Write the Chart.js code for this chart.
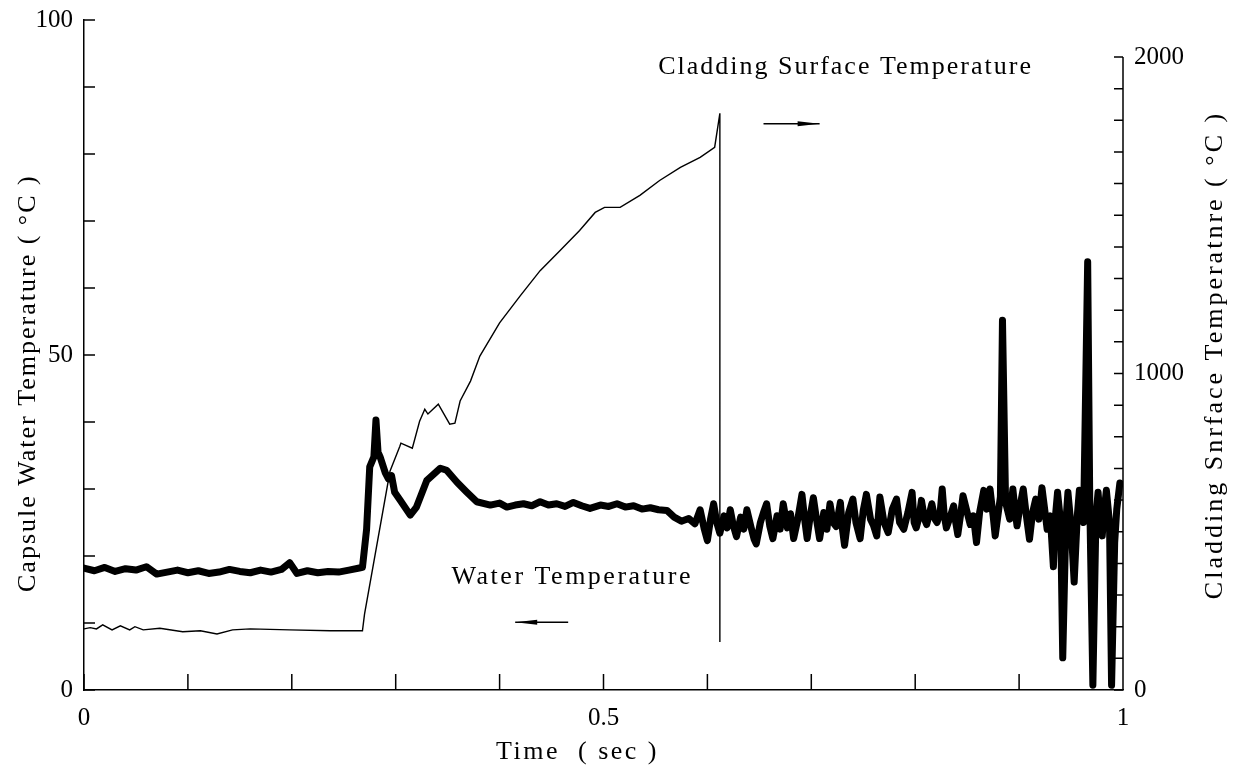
<!DOCTYPE html>
<html>
<head>
<meta charset="utf-8">
<script src="https://cdn.jsdelivr.net/npm/chart.js@4"></script>
<style>
  body { margin: 0; background: #fff; }
  #wrap { width: 1235px; height: 776px; }
</style>
</head>
<body>
<div id="wrap"><canvas id="chart"></canvas></div>
<script>
// capsule water temperature (left axis, degC) vs time (sec)
const waterTime = [
  0, 0.01, 0.02, 0.03, 0.04, 0.05, 0.06, 0.07, 0.08, 0.09, 0.10, 0.11, 0.12, 0.13, 0.14, 0.15, 0.16, 0.17, 0.18, 0.19,
  0.198, 0.205, 0.215, 0.225, 0.235, 0.245, 0.255, 0.265,
  0.268, 0.272, 0.275, 0.279, 0.281, 0.283, 0.285, 0.290, 0.293, 0.296, 0.299, 0.304, 0.314, 0.320, 0.330, 0.343,
  0.349, 0.359, 0.368, 0.378, 0.391, 0.400, 0.407, 0.415, 0.423, 0.431, 0.439, 0.447, 0.455, 0.463, 0.471, 0.479,
  0.487, 0.497, 0.505, 0.513, 0.521, 0.529, 0.537, 0.545, 0.553, 0.561, 0.568, 0.575, 0.582, 0.588,
  0.593, 0.597, 0.600, 0.603, 0.606, 0.609, 0.612, 0.616, 0.619, 0.622, 0.625, 0.628, 0.632, 0.635, 0.638, 0.642,
  0.645, 0.647, 0.651, 0.654, 0.657, 0.660, 0.663, 0.667, 0.670, 0.673, 0.677, 0.680, 0.683, 0.687, 0.691, 0.694,
  0.696, 0.699, 0.702, 0.705, 0.708, 0.712, 0.715, 0.718, 0.721, 0.724, 0.728, 0.730, 0.732, 0.736, 0.740, 0.743,
  0.747, 0.750, 0.753, 0.757, 0.760, 0.763, 0.766, 0.770, 0.774, 0.778, 0.782, 0.785, 0.789, 0.793, 0.797, 0.799,
  0.801, 0.804, 0.806, 0.809, 0.811, 0.814, 0.816, 0.819, 0.821, 0.824, 0.826, 0.828, 0.830, 0.834, 0.837, 0.839,
  0.841, 0.844, 0.846, 0.850, 0.853, 0.856, 0.859, 0.862, 0.866, 0.869, 0.872, 0.875, 0.877, 0.880, 0.882, 0.884,
  0.887, 0.891, 0.894, 0.896, 0.898, 0.901, 0.904, 0.907, 0.910, 0.913, 0.916, 0.919, 0.922, 0.925, 0.927, 0.930,
  0.933, 0.935, 0.937, 0.940, 0.942, 0.945, 0.947, 0.950, 0.953, 0.956, 0.958, 0.962, 0.966, 0.968, 0.971, 0.974,
  0.976, 0.978, 0.980, 0.982, 0.984, 0.987, 0.989, 0.992, 0.994, 0.997
];
const waterTemp = [
  18.2, 17.8, 18.3, 17.7, 18.1, 17.9, 18.4, 17.3, 17.6, 17.9, 17.5, 17.8, 17.4, 17.6, 18.0, 17.7, 17.5, 17.9, 17.6, 18.0,
  19.0, 17.4, 17.8, 17.5, 17.7, 17.6, 17.9, 18.2,
  18.3, 24.0, 33.3, 34.8, 40.3, 35.5, 34.8, 32.4, 31.5, 32.0, 29.5, 28.4, 26.1, 27.3, 31.3, 33.1,
  32.8, 31.0, 29.6, 28.1, 27.6, 27.9, 27.3, 27.6, 27.8, 27.5, 28.1, 27.6, 27.8, 27.4, 28.0, 27.5,
  27.1, 27.6, 27.4, 27.8, 27.3, 27.5, 27.0, 27.2, 26.9, 26.8, 25.8, 25.2, 25.6, 24.8,
  26.9, 24.0, 22.3, 25.5, 27.8, 25.0, 23.4, 26.0, 24.2, 26.9, 24.5, 22.9, 25.8, 24.0, 26.9, 24.3,
  22.5, 21.8, 25.0, 26.5, 27.8, 24.5, 22.6, 26.0, 24.0, 27.8, 24.2, 26.3, 22.6, 25.5, 29.2, 25.0,
  22.6, 26.0, 28.7, 25.5, 22.6, 26.5, 24.0, 27.8, 25.0, 24.4, 28.0, 24.0, 21.6, 26.5, 28.5, 25.0,
  22.6, 26.8, 29.2, 25.5, 24.5, 23.0, 28.8, 25.0, 23.5, 27.0, 28.5, 25.0, 24.0, 26.5, 29.5, 25.0,
  24.2, 26.0, 28.3, 25.5, 24.7, 26.5, 27.8, 25.5, 25.0, 26.5, 30.0, 26.0, 24.2, 26.0, 27.5, 25.0,
  23.2, 26.5, 29.0, 26.5, 24.7, 26.0, 22.0, 26.5, 29.8, 27.0, 30.0, 26.0, 23.0, 26.5, 28.8, 55.2,
  28.0, 25.5, 30.0, 27.0, 24.5, 27.5, 30.0, 26.0, 22.5, 26.5, 28.5, 25.5, 30.2, 26.5, 24.0, 26.0,
  18.4, 26.0, 29.5, 25.0, 4.8, 25.0, 29.5, 24.5, 16.1, 26.0, 29.8, 25.0, 63.9, 28.0, 0.7, 26.0,
  29.5, 25.5, 23.0, 27.0, 29.8, 25.0, 0.7, 22.0, 27.0, 30.9
];

// cladding surface temperature (right axis, degC) vs time (sec)
const cladTime = [
  0, 0.006, 0.012, 0.018, 0.027, 0.035, 0.044, 0.049, 0.057, 0.073, 0.095, 0.112, 0.128, 0.143, 0.160, 0.198, 0.237, 0.268,
  0.270, 0.2945, 0.304, 0.305, 0.316, 0.323, 0.328, 0.331, 0.341, 0.352, 0.357, 0.362, 0.372,
  0.381, 0.400, 0.420, 0.439, 0.458, 0.477, 0.492, 0.501, 0.516, 0.535, 0.554, 0.574, 0.593, 0.607, 0.612, 0.612
];
const cladTemp = [
  193, 197, 193, 206, 190, 203, 190, 200, 190, 195, 184, 187, 177, 190, 193, 190, 187, 187,
  240, 691, 770, 780, 764, 849, 887, 872, 903, 840, 843, 913, 976,
  1055, 1160, 1246, 1325, 1388, 1452, 1509, 1525, 1525, 1563, 1610, 1651, 1683, 1715, 1822, 152
];

// labelled ticks; minor tick marks every step
const timeLabels = [0, 0.5, 1];
const waterLabels = [0, 50, 100];
const cladLabels = [0, 1000, 2000];
const timeMinor = Array.from({ length: 11 }, (_, i) => i / 10);
const waterMinor = Array.from({ length: 11 }, (_, i) => i * 10);
const cladMinor = Array.from({ length: 21 }, (_, i) => i * 100);

const serif = "'Liberation Serif', 'DejaVu Serif', serif";
Chart.defaults.font.family = serif;
Chart.defaults.color = '#000';

function labelOf(list, fmt) {
  return v => (list.some(t => Math.abs(t - v) < 1e-6) ? fmt(v) : '');
}

function arrow(ctx, x1, x2, y, head) {
  // head at x2
  const dir = x2 > x1 ? 1 : -1;
  ctx.beginPath();
  ctx.moveTo(x1, y);
  ctx.lineTo(x2, y);
  ctx.stroke();
  ctx.beginPath();
  ctx.moveTo(x2, y);
  ctx.lineTo(x2 - dir * head, y - 2.5);
  ctx.lineTo(x2 - dir * head, y + 2.5);
  ctx.closePath();
  ctx.fill();
}

function label(ctx, text, px, py, spacing, rotate) {
  ctx.save();
  ctx.letterSpacing = spacing + 'px';
  ctx.translate(px, py);
  if (rotate) ctx.rotate(-Math.PI / 2);
  ctx.fillText(text, 0, 0);
  ctx.restore();
}

const overlay = {
  id: 'overlay',
  afterDraw(chart) {
    const { ctx, chartArea: a } = chart;
    const { x, y, y2 } = chart.scales;
    ctx.save();
    ctx.strokeStyle = '#000';
    ctx.fillStyle = '#000';
    ctx.lineWidth = 1.5;

    // inward tick marks
    ctx.beginPath();
    x.ticks.forEach(t => {
      const px = x.getPixelForValue(t.value);
      ctx.moveTo(px, a.bottom);
      ctx.lineTo(px, a.bottom - 16);
    });
    y.ticks.forEach(t => {
      const py = y.getPixelForValue(t.value);
      ctx.moveTo(a.left, py);
      ctx.lineTo(a.left + 11, py);
    });
    const cladTop = cladLabels[cladLabels.length - 1];
    y2.ticks.filter(t => t.value <= cladTop).forEach(t => {
      const py = y2.getPixelForValue(t.value);
      ctx.moveTo(a.right, py);
      ctx.lineTo(a.right - 9, py);
    });
    // right axis line only up to its top label
    ctx.moveTo(a.right, y2.getPixelForValue(0));
    ctx.lineTo(a.right, y2.getPixelForValue(cladTop));
    ctx.stroke();

    // annotations
    ctx.font = '26px ' + serif;
    ctx.textAlign = 'center';
    ctx.textBaseline = 'middle';
    label(ctx, 'Cladding Surface Temperature', x.getPixelForValue(0.733), y.getPixelForValue(93), 2);
    label(ctx, 'Water Temperature', x.getPixelForValue(0.470), y.getPixelForValue(16.9), 2.5);
    arrow(ctx, x.getPixelForValue(0.654), x.getPixelForValue(0.708), y.getPixelForValue(84.5), 22);
    arrow(ctx, x.getPixelForValue(0.466), x.getPixelForValue(0.415), y.getPixelForValue(10.1), 22);

    // axis titles
    label(ctx, 'Time  ( sec )', x.getPixelForValue(0.475), a.bottom + 62, 2.5);
    label(ctx, 'Capsule Water Temperature ( \u00B0C )', a.left - 56, y.getPixelForValue(45.8), 2, true);
    label(ctx, 'Cladding Snrface Temperatnre ( \u00B0C )', a.right + 92, y.getPixelForValue(50), 3, true);
    ctx.restore();
  }
};

new Chart(document.getElementById('chart'), {
  type: 'line',
  data: {
    datasets: [
      {
        label: 'Water Temperature',
        data: waterTime.map((t, i) => ({ x: t, y: waterTemp[i] })),
        yAxisID: 'y',
        borderColor: '#000',
        borderWidth: 7,
        borderJoinStyle: 'round',
        borderCapStyle: 'round',
        pointRadius: 0,
        tension: 0
      },
      {
        label: 'Cladding Surface Temperature',
        data: cladTime.map((t, i) => ({ x: t, y: cladTemp[i] })),
        yAxisID: 'y2',
        borderColor: '#000',
        borderWidth: 1.4,
        pointRadius: 0,
        tension: 0
      }
    ]
  },
  options: {
    responsive: true,
    maintainAspectRatio: false,
    animation: false,
    layout: { padding: { top: 20, left: 0, right: 0, bottom: 0 } },
    plugins: { legend: { display: false }, tooltip: { enabled: false } },
    scales: {
      x: {
        type: 'linear',
        min: 0,
        max: 1,
        afterBuildTicks: s => { s.ticks = timeMinor.map(v => ({ value: v })); },
        afterFit: s => { s.height = 86; },
        ticks: {
          autoSkip: false,
          maxRotation: 0,
          padding: 5,
          font: { size: 25 },
          callback: labelOf(timeLabels, v => String(+v.toFixed(1)))
        },
        grid: { display: false },
        border: { color: '#000', width: 1.5 }
      },
      y: {
        position: 'left',
        min: 0,
        max: 100,
        afterBuildTicks: s => { s.ticks = waterMinor.map(v => ({ value: v })); },
        afterFit: s => { s.width = 84; },
        ticks: {
          autoSkip: false,
          padding: 3,
          font: { size: 25 },
          callback: labelOf(waterLabels, v => String(v))
        },
        grid: { display: false },
        border: { color: '#000', width: 1.5 }
      },
      y2: {
        position: 'right',
        min: 0,
        max: 2117,
        afterBuildTicks: s => { s.ticks = cladMinor.map(v => ({ value: v })); },
        afterFit: s => { s.width = 112; },
        ticks: {
          autoSkip: false,
          padding: 3,
          font: { size: 25 },
          callback: labelOf(cladLabels, v => String(v))
        },
        grid: { display: false },
        border: { display: false }
      }
    }
  },
  plugins: [overlay]
});
</script>
</body>
</html>
